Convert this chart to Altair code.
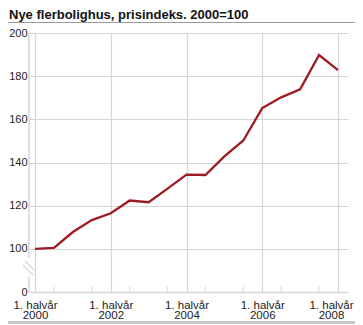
import altair as alt
import pandas as pd

title_text = "Nye flerbolighus, prisindeks. 2000=100"
years = [2000, 2000, 2001, 2001, 2002, 2002, 2003, 2003, 2004, 2004,
         2005, 2005, 2006, 2006, 2007, 2007, 2008]
halves = [1, 2, 1, 2, 1, 2, 1, 2, 1, 2, 1, 2, 1, 2, 1, 2, 1]
values = [100.0, 100.4, 107.8, 113.3, 116.5, 122.4, 121.6, 127.9, 134.4, 134.2,
          142.8, 150.2, 165.2, 170.2, 173.9, 189.8, 182.8]
y_ticks = [80, 100, 120, 140, 160, 180, 200]

df = pd.DataFrame({
    "idx": list(range(len(values))),
    "year": years,
    "half": halves,
    "value": values,
})
odd_df = df[df["half"] == 2]
one = df.head(1)

W, H = 319, 259
GRID = "#d6d6d6"
TXT = "#222222"
FONT = "Liberation Sans"

x_scale = alt.Scale(domain=[-0.317, 16.528], nice=False, zero=False)
y_scale = alt.Scale(domain=[80, 200], nice=False, zero=False)

label_expr = "datum.value % 2 == 0 ? ['1. halvår', '' + (2000 + datum.value / 2)] : ''"

line = alt.Chart(df).mark_line(color="#9e1b22", strokeWidth=2.3).encode(
    x=alt.X("idx:Q", scale=x_scale,
            axis=alt.Axis(values=list(range(0, 17, 2)), labelExpr=label_expr,
                          title=None, grid=True, gridColor=GRID, gridWidth=1.2,
                          ticks=False, domainColor=GRID, domainWidth=1.5,
                          labelColor=TXT, labelFont=FONT, labelFontSize=11.5,
                          labelPadding=7, labelLineHeight=10.5,
                          labelAlign="center", labelBaseline="top",
                          labelOffset={"condition": {"test": "datum.value == 16",
                                                     "value": -7},
                                       "value": 0})),
    y=alt.Y("value:Q", scale=y_scale,
            axis=alt.Axis(values=y_ticks,
                          labelExpr="datum.value == 80 ? '0' : datum.label",
                          title=None, grid=True, gridColor=GRID, gridWidth=1.2,
                          ticks=False, domain=False,
                          labelColor=TXT, labelFont=FONT, labelFontSize=11,
                          labelPadding=2)),
)

inner_ticks = alt.Chart(odd_df).mark_tick(
    color=GRID, thickness=1.2, size=6, orient="vertical"
).encode(x=alt.X("idx:Q", scale=x_scale), y=alt.value(H - 3))

# broken left axis line
axis_top = alt.Chart(one).mark_rule(color=GRID, strokeWidth=1.5).encode(
    x=alt.value(0), y=alt.value(0), y2=alt.value(225))
axis_bot = alt.Chart(one).mark_rule(color=GRID, strokeWidth=1.5).encode(
    x=alt.value(0), y=alt.value(244), y2=alt.value(H))
brk1 = alt.Chart(one).mark_rule(color=GRID, strokeWidth=1.2).encode(
    x=alt.value(-6), x2=alt.value(4), y=alt.value(232), y2=alt.value(242))
brk2 = alt.Chart(one).mark_rule(color=GRID, strokeWidth=1.2).encode(
    x=alt.value(-4), x2=alt.value(6), y=alt.value(228), y2=alt.value(238))

# header title and rules
title = alt.Chart(one).mark_text(
    align="left", baseline="alphabetic", font=FONT, fontSize=13,
    fontWeight="bold", color="#111111"
).encode(x=alt.value(-20), y=alt.value(-14.3), text=alt.value(title_text))
top_rule = alt.Chart(one).mark_rule(color="#999999", strokeWidth=1).encode(
    x=alt.value(-25), x2=alt.value(W + 10), y=alt.value(-10.5))
bot_rule = alt.Chart(one).mark_rule(color="#c8c8c8", strokeWidth=3).encode(
    x=alt.value(-25), x2=alt.value(W + 10), y=alt.value(H + 30.5))

chart = alt.layer(
    axis_top, axis_bot, brk1, brk2, inner_ticks, line, title, top_rule, bot_rule
).properties(
    width=W, height=H,
    padding={"left": 21, "top": 25, "right": 7, "bottom": 33},
    autosize=alt.AutoSizeParams(type="none"),
).configure_view(stroke=None)

chart.save("out.html", embed_options={"renderer": "svg", "actions": False})
